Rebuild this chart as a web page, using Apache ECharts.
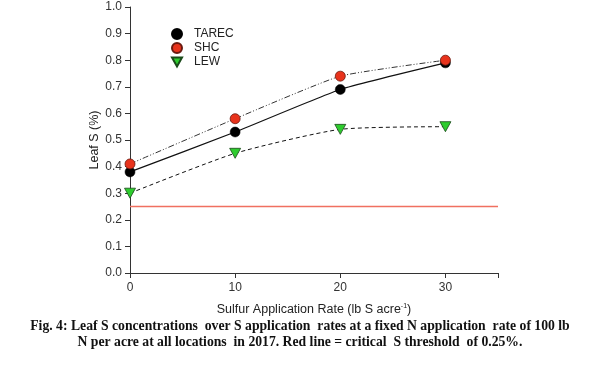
<!DOCTYPE html>
<html><head><meta charset="utf-8">
<script src="https://cdn.jsdelivr.net/npm/echarts@6/dist/echarts.min.js"></script>
<style>html,body{margin:0;padding:0;background:#fff}#c{width:600px;height:374px}</style>
</head><body><div id="c"></div>
<script>
const rates = [0, 10, 20, 30];
const tarec = [0.38, 0.53, 0.69, 0.79];
const shc = [0.41, 0.58, 0.74, 0.80];
const lew = [0.30, 0.45, 0.54, 0.55];
const threshold = 0.25;
const seriesNames = ['TAREC', 'SHC', 'LEW'];
const caption1 = 'Fig. 4: Leaf S concentrations  over S application  rates at a fixed N application  rate of 100 lb';
const caption2 = 'N per acre at all locations  in 2017. Red line = critical  S threshold  of 0.25%.';

const pair = arr => rates.map((r, i) => [r, arr[i]]);
const tri = 'path://M0,0 L10,0 L5,9 Z';
const chart = echarts.init(document.getElementById('c'));
const axisCol = '#333';
chart.setOption({
  animation: false,
  textStyle: {fontFamily: 'Liberation Sans, Arial, sans-serif'},
  grid: {left: 130, right: 102, top: 7, bottom: 101},
  legend: {
    orient: 'vertical', left: 166, top: 23, itemGap: 2, itemWidth: 10, itemHeight: 10,
    data: seriesNames,
    textStyle: {fontSize: 12, color: '#222', padding: [0, 0, 0, 7], lineHeight: 12}
  },
  xAxis: {
    type: 'value', min: 0, max: 35, interval: 10,
    splitLine: {show: false},
    axisLine: {lineStyle: {color: axisCol, width: 1}},
    axisTick: {lineStyle: {color: axisCol}, length: 5},
    axisLabel: {color: '#333', fontSize: 12, margin: 9,
      formatter: v => (v % 10 === 0 && v <= 30) ? String(v) : ''},
    name: '{n|Sulfur Application Rate (lb S acre}{s|-1}{n|)}',
    nameLocation: 'middle', nameGap: 30, nameMoveOverlap: false,
    nameTextStyle: {rich: {
      n: {fontSize: 12.5, color: '#222'},
      s: {fontSize: 7, color: '#222', verticalAlign: 'top', padding: [0, 0, 6, 0]}
    }}
  },
  yAxis: {
    type: 'value', min: 0, max: 1, interval: 0.1,
    splitLine: {show: false},
    axisLine: {show: true, lineStyle: {color: axisCol, width: 1}},
    axisTick: {show: true, lineStyle: {color: axisCol}, length: 5},
    axisLabel: {color: '#333', fontSize: 12, margin: 8, formatter: v => v.toFixed(1)},
    name: 'Leaf S (%)', nameLocation: 'middle', nameGap: 29, nameMoveOverlap: false,
    nameTextStyle: {fontSize: 12.5, color: '#222'}
  },
  series: [
    {type: 'line', data: pair(tarec), smooth: 0.15, showSymbol: false, silent: true,
     lineStyle: {color: '#111', width: 1.2, type: 'solid'}, z: 2},
    {type: 'line', data: pair(shc), smooth: 0.15, showSymbol: false, silent: true,
     lineStyle: {color: '#333', width: 1, type: [6, 2, 1, 2, 1, 2]}, z: 2},
    {type: 'line', data: pair(lew), smooth: 0.2, showSymbol: false, silent: true,
     lineStyle: {color: '#111', width: 1, type: [4, 3]}, z: 2,
     markLine: {silent: true, symbol: 'none', label: {show: false},
       lineStyle: {color: '#f07060', width: 1.3, type: 'solid'},
       data: [[{coord: [0, threshold]}, {coord: [35, threshold]}]]}},
    {name: seriesNames[0], type: 'scatter', data: pair(tarec), symbol: 'circle', symbolSize: 10,
     itemStyle: {color: '#000', borderColor: '#000', borderWidth: 0.5, opacity: 1}, z: 5},
    {name: seriesNames[1], type: 'scatter', data: pair(shc), symbol: 'circle', symbolSize: 10,
     itemStyle: {color: '#e8331c', borderColor: '#6a1a10', borderWidth: 0.8, opacity: 1}, z: 5},
    {name: seriesNames[2], type: 'scatter', data: pair(lew), symbol: tri, symbolSize: [11, 10],
     itemStyle: {color: '#2ecc2e', borderColor: '#1a4a1a', borderWidth: 0.8, opacity: 1}, z: 5}
  ],
  graphic: [
    {type: 'text', left: 'center', top: 319, style: {text: caption1,
      font: 'bold 13.7px "Liberation Serif", "Times New Roman", serif', fill: '#111'}},
    {type: 'text', left: 'center', top: 335, style: {text: caption2,
      font: 'bold 13.7px "Liberation Serif", "Times New Roman", serif', fill: '#111'}}
  ]
});
</script></body></html>
